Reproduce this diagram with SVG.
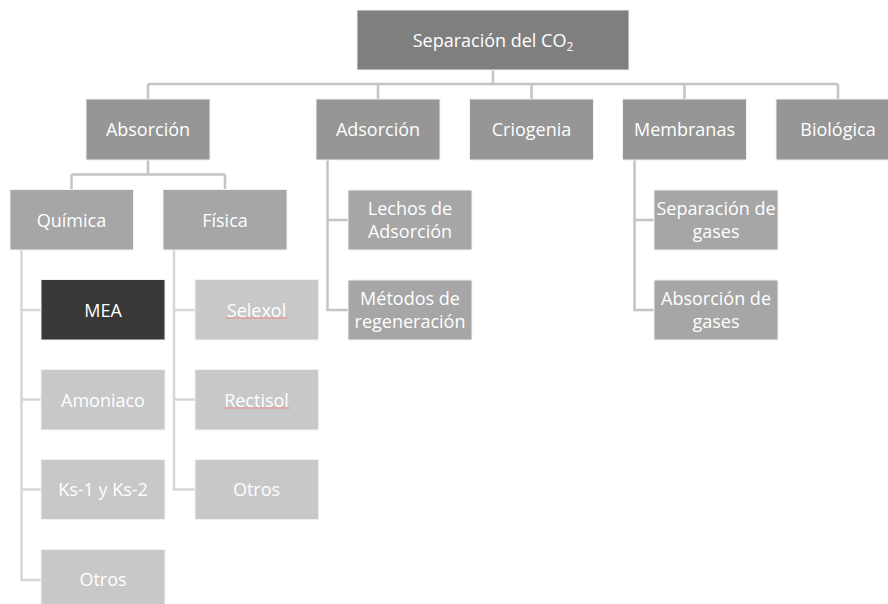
<svg xmlns="http://www.w3.org/2000/svg" width="888" height="604" viewBox="0 0 888 604">
<style>
.t{font-family:"Open Sans","Noto Sans","Liberation Sans",sans-serif;font-size:18px;fill:#ffffff;text-anchor:middle}
.b0{fill:#7f7f7f;stroke:#f2f2f2;stroke-width:1}
.b1{fill:#969696;stroke:#f2f2f2;stroke-width:1}
.b2{fill:#a6a6a6;stroke:#f2f2f2;stroke-width:1}
.b3{fill:#c8c8c8;stroke:#f2f2f2;stroke-width:1}
.bd{fill:#3a3836;stroke:#f2f2f2;stroke-width:1}
.c{fill:none;stroke:#c4c4c4;stroke-width:2.5}
.c2{fill:none;stroke:#d6d6d6;stroke-width:2.5}
.sp{stroke:#ee8a8a;stroke-width:1.2}
</style>
<rect width="888" height="604" fill="#ffffff"/>
<g id="connectors">
<path class="c" d="M493,70 V84 M148,84 H838 M148,84 V99 M378,84 V99 M531.5,84 V99 M684.5,84 V99 M838,84 V99"/>
<path class="c" d="M148,160 V174.5 M71.5,174.5 H225 M71.5,174.5 V189.5 M225,174.5 V189.5"/>
<path class="c" d="M327.5,160 V310 H348 M327.5,220 H348"/>
<path class="c" d="M634.5,160 V310 H654 M634.5,220 H654"/>
<path class="c2" d="M21.5,250 V580 H41 M21.5,310 H41 M21.5,399.5 H41 M21.5,489.5 H41"/>
<path class="c2" d="M174,250 V489.5 H195 M174,310 H195 M174,399.5 H195"/>
</g>
<g id="n-root"><rect class="b0" x="357" y="10" width="272" height="60"/><text class="t" x="493" y="46.5">Separación del CO<tspan font-size="12" dy="4">2</tspan></text></g>
<g id="n-absorcion"><rect class="b1" x="86" y="99" width="124" height="61"/><text class="t" x="148" y="136">Absorción</text></g>
<g id="n-adsorcion"><rect class="b1" x="316" y="99" width="124" height="61"/><text class="t" x="378" y="136">Adsorción</text></g>
<g id="n-criogenia"><rect class="b1" x="469.5" y="99" width="124" height="61"/><text class="t" x="531.5" y="136">Criogenia</text></g>
<g id="n-membranas"><rect class="b1" x="622.5" y="99" width="124" height="61"/><text class="t" x="684.5" y="136">Membranas</text></g>
<g id="n-biologica"><rect class="b1" x="776" y="99" width="124" height="61"/><text class="t" x="838" y="136">Biológica</text></g>
<g id="n-quimica"><rect class="b2" x="10" y="189.5" width="123.5" height="60.5"/><text class="t" x="71.5" y="226.5">Química</text></g>
<g id="n-fisica"><rect class="b2" x="163" y="189.5" width="124" height="60.5"/><text class="t" x="225" y="226.5">Física</text></g>
<g id="n-lechos"><rect class="b2" x="348" y="190" width="124" height="60"/><text class="t" x="410" y="214.5">Lechos de</text><text class="t" x="410" y="238">Adsorción</text></g>
<g id="n-metodos"><rect class="b2" x="348" y="280" width="124" height="60"/><text class="t" x="410" y="304.5">Métodos de</text><text class="t" x="410" y="328">regeneración</text></g>
<g id="n-sepgases"><rect class="b2" x="654" y="190" width="124" height="60"/><text class="t" x="716" y="214.5">Separación de</text><text class="t" x="716" y="238">gases</text></g>
<g id="n-absgases"><rect class="b2" x="654" y="280" width="124" height="60"/><text class="t" x="716" y="304.5">Absorción de</text><text class="t" x="716" y="328">gases</text></g>
<g id="n-mea"><rect class="bd" x="41" y="279.5" width="124" height="60.5"/><text class="t" x="103" y="316.5">MEA</text></g>
<g id="n-amoniaco"><rect class="b3" x="41" y="369.5" width="124" height="60.5"/><text class="t" x="103" y="406.5">Amoniaco</text></g>
<g id="n-ks"><rect class="b3" x="41" y="459.5" width="124" height="60"/><text class="t" x="103" y="496">Ks-1 y Ks-2</text></g>
<g id="n-otros1"><rect class="b3" x="41" y="549.5" width="124" height="60"/><text class="t" x="103" y="586">Otros</text></g>
<g id="n-selexol"><rect class="b3" x="195" y="279.5" width="123.5" height="60.5"/><text class="t" x="256.5" y="316.5">Selexol</text><line class="sp" x1="226" y1="318" x2="287" y2="318"/></g>
<g id="n-rectisol"><rect class="b3" x="195" y="369.5" width="123.5" height="60.5"/><text class="t" x="256.5" y="406.5">Rectisol</text><line class="sp" x1="223" y1="408" x2="290" y2="408"/></g>
<g id="n-otros2"><rect class="b3" x="195" y="459.5" width="123.5" height="60"/><text class="t" x="256.5" y="496">Otros</text></g>
</svg>
